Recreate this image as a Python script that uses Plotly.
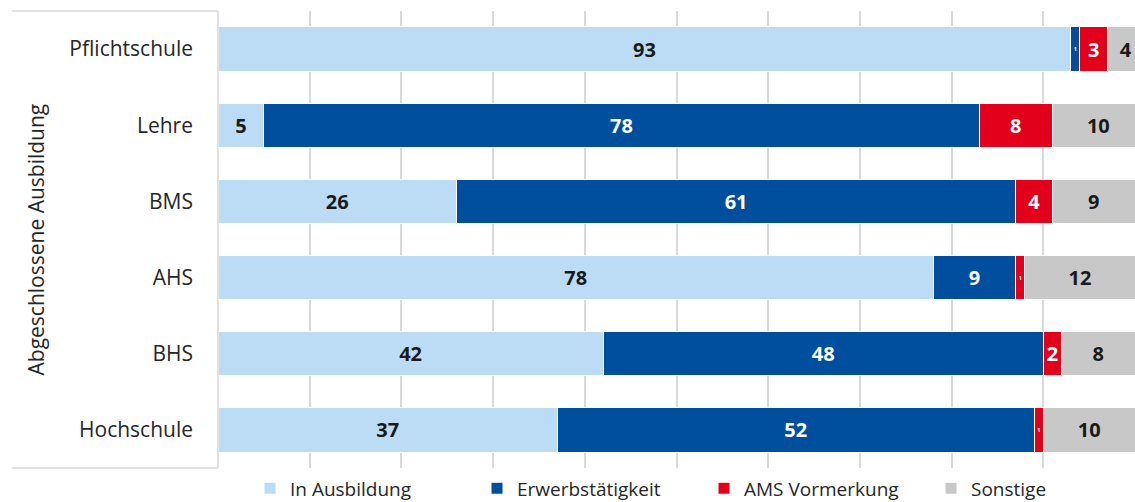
import plotly.graph_objects as go

categories = ["Pflichtschule", "Lehre", "BMS", "AHS", "BHS", "Hochschule"]
in_ausbildung = [93, 5, 26, 78, 42, 37]
erwerb = [1, 78, 61, 9, 48, 52]
ams = [3, 8, 4, 1, 2, 1]
sonstige = [4, 10, 9, 12, 8, 10]

series = [
    ("In Ausbildung", in_ausbildung, "#BBDCF4", "#1A1A1A"),
    ("Erwerbstätigkeit", erwerb, "#004E9E", "#FFFFFF"),
    ("AMS Vormerkung", ams, "#E2001A", "#FFFFFF"),
    ("Sonstige", sonstige, "#C8C8C8", "#1A1A1A"),
]

FONT = "'Open Sans', 'Noto Sans', sans-serif"
W, H = 1135, 502
L, R, T, B = 218, 0, 11, 34
PW = W - L - R
PH = H - T - B

fig = go.Figure()
for name, vals, color, tcolor in series:
    fig.add_trace(go.Bar(
        name=name,
        y=categories,
        x=vals,
        orientation="h",
        marker=dict(color=color, line=dict(color="#FFFFFF", width=1)),
        text=[str(v) for v in vals],
        textposition="inside",
        insidetextanchor="middle",
        textangle=0,
        textfont=dict(family=FONT, size=20, color=tcolor, weight="bold"),
        hoverinfo="skip",
    ))

fig.update_layout(
    barmode="stack",
    bargap=0.42,
    width=W,
    height=H,
    margin=dict(l=L, r=R, t=T, b=B, autoexpand=False),
    paper_bgcolor="white",
    plot_bgcolor="white",
    font=dict(family=FONT, size=20, color="#262626"),
    showlegend=True,
    legend=dict(
        orientation="h",
        x=(250 - L) / PW, xanchor="left",
        y=-0.003, yanchor="top",
        font=dict(family=FONT, size=19, color="#262626"),
        itemwidth=30,
        traceorder="normal",
        entrywidth=182,
    ),
    xaxis=dict(
        range=[0, 100],
        dtick=10,
        tick0=0,
        showgrid=True,
        gridcolor="#D9D9D9",
        gridwidth=1.5,
        showticklabels=False,
        zeroline=False,
        showline=False,
        fixedrange=True,
        automargin=False,
    ),
    yaxis=dict(
        autorange="reversed",
        showgrid=False,
        showline=False,
        ticks="",
        ticklabelstandoff=24,
        automargin=False,
        fixedrange=True,
        tickfont=dict(family=FONT, size=21, color="#262626"),
    ),
    annotations=[
        dict(text="Abgeschlossene Ausbildung", textangle=-90,
             xref="paper", yref="paper", x=(35 - L) / PW, y=0.5,
             xanchor="center", yanchor="middle", showarrow=False,
             font=dict(family=FONT, size=21, color="#262626")),
    ],
    shapes=[
        dict(type="line", xref="paper", yref="paper", x0=(12 - L) / PW, x1=0, y0=1.0, y1=1.0,
             line=dict(color="#D9D9D9", width=1.5)),
        dict(type="line", xref="paper", yref="paper", x0=(12 - L) / PW, x1=0, y0=0.0, y1=0.0,
             line=dict(color="#D9D9D9", width=1.5)),
        dict(type="line", xref="paper", yref="paper", x0=0, x1=0, y0=0.0, y1=1.0,
             line=dict(color="#D9D9D9", width=1.5)),
    ],
)

fig.write_html(
    "out.html",
    config={"displayModeBar": False},
    post_script="document.body.style.margin='0';document.body.style.overflow='hidden';",
)
